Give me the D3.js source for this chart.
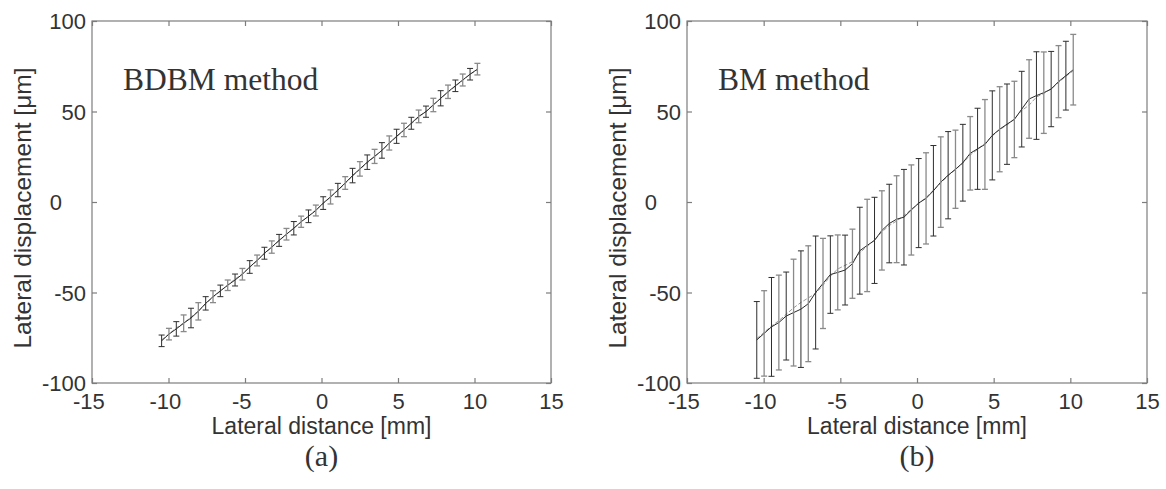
<!DOCTYPE html>
<html><head><meta charset="utf-8">
<script src="https://cdn.jsdelivr.net/npm/d3@7"></script>
<style>body{margin:0;background:#fff}svg{display:block}</style>
</head><body><svg id="c" width="1166" height="489"></svg>
<script>
// ---------- data ----------
const lateralDistance = [-10.45,-9.97,-9.49,-9.01,-8.53,-8.05,-7.57,-7.09,-6.61,-6.13,-5.65,-5.17,-4.69,-4.21,-3.73,-3.25,-2.77,-2.29,-1.81,-1.33,-0.85,-0.37,0.11,0.59,1.07,1.55,2.03,2.51,2.99,3.47,3.95,4.43,4.91,5.39,5.87,6.35,6.83,7.31,7.79,8.27,8.75,9.23,9.71,10.19];

const bdbmMean = [-76.7,-73.0,-70.1,-67.0,-64.1,-60.4,-56.0,-52.3,-49.1,-46.0,-43.1,-39.9,-35.9,-32.3,-28.3,-24.9,-21.2,-17.8,-14.5,-10.9,-7.9,-4.7,-0.6,2.8,6.6,10.5,14.6,18.3,22.0,25.2,28.5,32.6,36.3,39.8,43.5,47.3,49.9,53.6,57.3,60.9,64.2,67.4,70.6,73.4];
const bdbmStd  = [3.2,3.2,4.0,4.6,5.4,4.8,3.7,3.3,3.2,2.9,3.3,3.2,3.5,3.0,3.3,3.4,3.3,3.2,3.7,3.1,3.5,3.0,3.5,3.9,3.7,3.5,4.0,4.0,4.0,3.9,4.3,3.9,3.9,3.7,3.3,3.5,3.1,3.7,4.2,3.7,3.2,3.3,3.2,3.2];
const bdbmRef  = [-76.2,-72.9,-69.6,-66.8,-63.6,-60.2,-56.3,-52.6,-49.3,-45.8,-42.6,-39.6,-36.1,-32.4,-28.6,-25.0,-21.4,-17.9,-14.5,-11.1,-7.8,-4.4,-0.9,2.7,6.4,10.2,14.3,18.0,21.6,25.0,28.6,32.3,36.0,39.6,43.2,46.8,50.2,53.8,57.2,60.6,63.9,67.2,70.5,73.0];

const bmMean = [-76.2,-72.6,-69.0,-66.6,-63.0,-61.1,-59.2,-56.2,-50.0,-45.0,-40.1,-38.9,-37.6,-34.1,-26.9,-24.0,-21.2,-15.7,-11.9,-9.5,-8.4,-4.4,-0.6,2.0,6.2,11.0,14.8,18.1,21.7,26.9,29.4,31.8,36.8,40.2,43.0,45.6,51.3,56.9,58.8,60.4,62.4,66.5,69.8,73.1];
const bmStd  = [21.2,23.6,27.3,26.2,24.3,29.5,32.2,32.0,31.2,24.9,21.4,20.7,19.3,19.1,24.0,25.5,23.8,21.9,21.7,24.0,26.4,24.9,24.6,25.2,25.0,25.0,24.1,21.6,21.2,20.3,22.4,24.8,24.6,23.5,22.2,21.1,20.9,21.7,24.2,22.5,20.8,19.9,19.0,19.5];
const bmRef  = [-75.5,-72.0,-68.5,-65.6,-62.0,-58.5,-55.5,-53.0,-50.5,-46.0,-41.0,-37.0,-35.0,-33.0,-28.0,-24.5,-21.0,-16.5,-13.0,-10.5,-7.5,-4.0,-0.8,2.5,6.5,10.5,14.5,18.0,21.5,26.0,29.0,32.5,36.5,40.0,42.5,46.0,50.5,53.5,58.0,60.0,62.5,66.0,69.5,72.5];

const xTicks = [-15,-10,-5,0,5,10,15];
const yTicks = [-100,-50,0,50,100];
const xDomain = [-15,15];
const yDomain = [-100,100];
const panelTitles = ["BDBM method","BM method"];
const panelTags = ["(a)","(b)"];
const xLabelText = "Lateral distance [mm]";
const yLabelText = "Lateral displacement [\u03bcm]";

// ---------- drawing ----------
const svg = d3.select("#c");
svg.append("rect").attr("width",1166).attr("height",489).attr("fill","#fff");

const panels = [
  {left:92, right:551, mean:bdbmMean, std:bdbmStd, ref:bdbmRef, title:panelTitles[0], tag:panelTags[0]},
  {left:687, right:1147, mean:bmMean, std:bmStd, ref:bmRef, title:panelTitles[1], tag:panelTags[1]}
];
const plotTop = 21, plotBottom = 383;
const textColor = "#333";
const frameColor = "#7d7d7d";
const sans = "'Liberation Sans', Arial, Helvetica, sans-serif";
const serif = "'Liberation Serif', 'Times New Roman', serif";
const fmt = d => String(d);

panels.forEach(p => {
  const x = d3.scaleLinear().domain(xDomain).range([p.left, p.right]);
  const y = d3.scaleLinear().domain(yDomain).range([plotBottom, plotTop]);
  const g = svg.append("g");

  g.append("rect").attr("x",p.left).attr("y",plotTop).attr("width",p.right-p.left).attr("height",plotBottom-plotTop)
    .attr("fill","none").attr("stroke",frameColor).attr("stroke-width",1.2);

  const ax = (axis, tr) => {
    const a = g.append("g").attr("transform",tr).call(axis);
    a.select(".domain").remove();
    a.selectAll(".tick line").attr("stroke",frameColor).attr("stroke-width",1.2);
    a.selectAll("text").attr("fill",textColor).style("font-family",sans).style("font-size","22px");
    return a;
  };
  const xb = ax(d3.axisBottom(x).tickValues(xTicks).tickSize(-5).tickPadding(10.5).tickFormat(fmt), `translate(0,${plotBottom})`);
  xb.selectAll("text").attr("dx", d => d < 0 ? -3.7 : 0);
  ax(d3.axisTop(x).tickValues(xTicks).tickSize(-5).tickFormat(""), `translate(0,${plotTop})`);
  const yl = ax(d3.axisLeft(y).tickValues(yTicks).tickSize(-5).tickPadding(6).tickFormat(fmt), `translate(${p.left},0)`);
  yl.selectAll("text").attr("x", d => d === 0 ? -30 : -6).attr("dy","0.35em");
  ax(d3.axisRight(y).tickValues(yTicks).tickSize(-5).tickFormat(""), `translate(${p.right},0)`);

  const lineGen = d3.line().x((d,i)=>x(lateralDistance[i])).y(d=>y(d));
  g.append("path").attr("d", lineGen(p.ref)).attr("fill","none").attr("stroke","#9a9a9a")
    .attr("stroke-width",1).attr("stroke-dasharray","4,2");
  g.append("path").attr("d", lineGen(p.mean)).attr("fill","none").attr("stroke","#2a2a2a").attr("stroke-width",1);

  const eb = g.append("g").selectAll("g").data(p.mean).join("g")
    .attr("stroke",(d,i)=> i%2 ? "#8a8a8a" : "#2e2e2e")
    .attr("stroke-width",(d,i)=> i%2 ? 1.3 : 1);
  eb.append("line").attr("x1",(d,i)=>x(lateralDistance[i])).attr("x2",(d,i)=>x(lateralDistance[i]))
    .attr("y1",(d,i)=>y(d-p.std[i])).attr("y2",(d,i)=>y(d+p.std[i]));
  eb.append("line").attr("x1",(d,i)=>x(lateralDistance[i])-3).attr("x2",(d,i)=>x(lateralDistance[i])+3)
    .attr("y1",(d,i)=>y(d-p.std[i])).attr("y2",(d,i)=>y(d-p.std[i]));
  eb.append("line").attr("x1",(d,i)=>x(lateralDistance[i])-3).attr("x2",(d,i)=>x(lateralDistance[i])+3)
    .attr("y1",(d,i)=>y(d+p.std[i])).attr("y2",(d,i)=>y(d+p.std[i]));

  g.append("text").attr("x",(p.left+p.right)/2).attr("y",434).attr("text-anchor","middle")
    .attr("fill",textColor).style("font-family",sans).style("font-size","23px").text(xLabelText);
  g.append("text").attr("transform",`translate(${p.left-70},${(plotTop+plotBottom)/2+6}) rotate(-90)`)
    .attr("text-anchor","middle").attr("dy","0.35em")
    .attr("fill",textColor).style("font-family",sans).style("font-size","24.5px").text(yLabelText);
  g.append("text").attr("x",p.left+31).attr("y",90).attr("fill",textColor)
    .style("font-family",serif).style("font-size","31.5px").text(p.title);
  g.append("text").attr("x",(p.left+p.right)/2).attr("y",466).attr("text-anchor","middle").attr("fill",textColor)
    .style("font-family",serif).style("font-size","30px").text(p.tag);
});
</script></body></html>
